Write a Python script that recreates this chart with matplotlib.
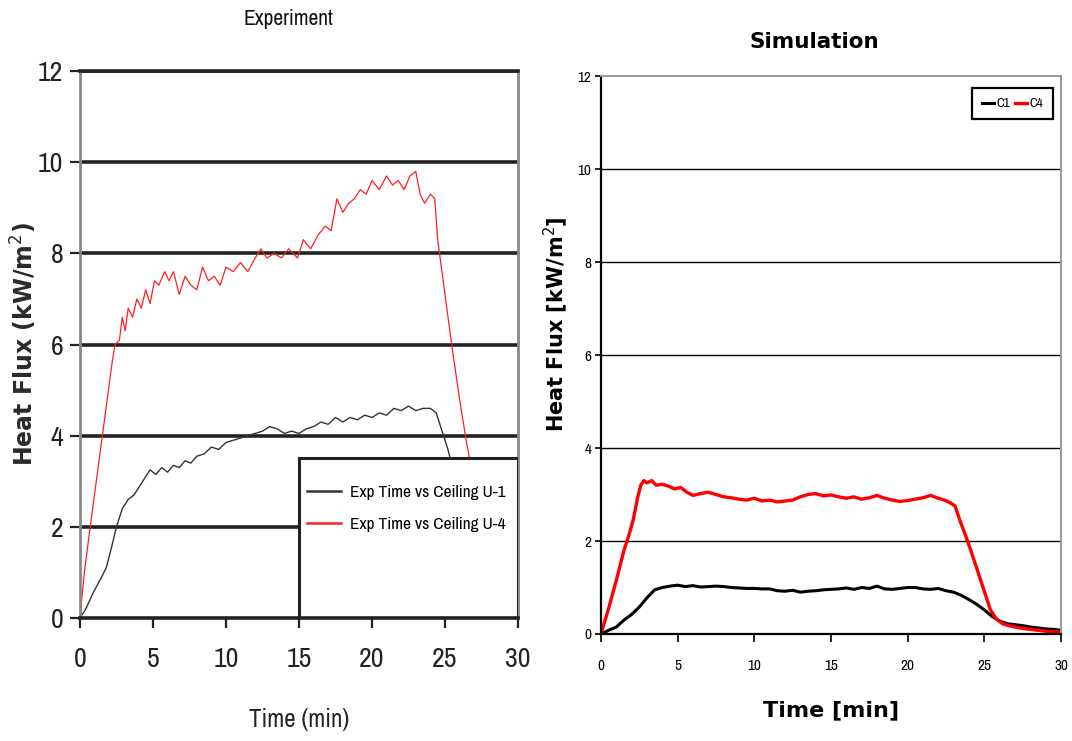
import matplotlib
matplotlib.use("Agg")
import matplotlib.pyplot as plt
from matplotlib.patches import Rectangle

# Experiment, ceiling gauges U-1 / U-4 (kW/m2 vs min)
exp_t_u1 = [0, 0.4, 0.9, 1.4, 1.8, 2.2, 2.5, 2.9, 3.3, 3.7, 4.1, 4.5, 4.8, 5.2, 5.6, 6.0,
            6.4, 6.8, 7.2, 7.6, 8.0, 8.5, 9.0, 9.5, 10.0, 10.5, 11.0, 11.5, 12.0, 12.5,
            13.0, 13.5, 14.0, 14.5, 15.0, 15.5, 16.0, 16.5, 17.0, 17.5, 18.0, 18.5, 19.0,
            19.5, 20.0, 20.5, 21.0, 21.5, 22.0, 22.5, 23.0, 23.5, 24.0, 24.4, 24.8, 25.2,
            25.6, 26.0, 27, 28, 29, 30]
exp_u1 = [0, 0.2, 0.55, 0.85, 1.1, 1.6, 2.0, 2.4, 2.6, 2.7, 2.9, 3.1, 3.25, 3.15, 3.3, 3.2,
          3.35, 3.3, 3.45, 3.4, 3.55, 3.6, 3.75, 3.7, 3.85, 3.9, 3.95, 4.0, 4.05, 4.1,
          4.2, 4.15, 4.05, 4.1, 4.05, 4.15, 4.2, 4.3, 4.25, 4.4, 4.3, 4.4, 4.35,
          4.45, 4.4, 4.5, 4.45, 4.6, 4.55, 4.65, 4.55, 4.6, 4.6, 4.5, 4.1, 3.7,
          3.2, 2.6, 1.8, 1.0, 0.4, 0.1]

exp_t_u4 = [0, 0.3, 0.7, 1.2, 1.7, 2.2, 2.4, 2.7, 2.9, 3.1, 3.3, 3.6, 3.9, 4.2, 4.5, 4.8,
            5.1, 5.4, 5.8, 6.1, 6.4, 6.8, 7.2, 7.6, 8.0, 8.4, 8.8, 9.2, 9.6, 10.0, 10.5,
            11.0, 11.5, 12.0, 12.4, 12.8, 13.3, 13.8, 14.3, 14.9, 15.3, 15.8, 16.3, 16.8,
            17.2, 17.6, 18.0, 18.4, 18.8, 19.2, 19.6, 20.0, 20.5, 21.0, 21.4, 21.8, 22.2,
            22.6, 23.0, 23.3, 23.6, 24.0, 24.3, 24.5, 25.0, 25.5, 26.0, 26.5, 27.0, 28.0,
            29.0, 30.0]
exp_u4 = [0, 1.0, 2.0, 3.2, 4.4, 5.6, 6.0, 6.1, 6.6, 6.3, 6.8, 6.6, 7.0, 6.8, 7.2, 6.9,
          7.4, 7.3, 7.6, 7.4, 7.6, 7.1, 7.5, 7.3, 7.2, 7.7, 7.4, 7.5, 7.3, 7.7, 7.6,
          7.8, 7.6, 7.9, 8.1, 7.9, 8.0, 7.9, 8.1, 7.9, 8.3, 8.1, 8.4, 8.6,
          8.5, 9.2, 8.9, 9.1, 9.2, 9.4, 9.3, 9.6, 9.4, 9.7, 9.5, 9.6, 9.4,
          9.7, 9.8, 9.3, 9.1, 9.3, 9.2, 8.3, 7.1, 5.9, 4.8, 3.8, 3.0, 1.8,
          0.7, 0.1]

# Simulation, C1 / C4
sim_t_c1 = [0, 0.5, 1.0, 1.5, 2.0, 2.5, 3.0, 3.5, 4.0, 4.5, 5.0, 5.5, 6.0, 6.5, 7.0, 7.5,
            8.0, 8.5, 9.0, 9.5, 10, 10.5, 11, 11.5, 12, 12.5, 13, 13.5, 14, 14.5, 15,
            15.5, 16, 16.5, 17, 17.5, 18, 18.5, 19, 19.5, 20, 20.5, 21, 21.5, 22, 22.5,
            23, 23.5, 24, 24.5, 25, 25.5, 26, 26.5, 27, 27.5, 28, 28.5, 29, 29.5, 30]
sim_c1 = [0, 0.08, 0.15, 0.3, 0.42, 0.58, 0.78, 0.95, 1.0, 1.03, 1.05, 1.02, 1.04, 1.01,
          1.02, 1.03, 1.02, 1.0, 0.99, 0.98, 0.98, 0.97, 0.97, 0.93, 0.92, 0.94, 0.9,
          0.92, 0.93, 0.95, 0.96, 0.97, 0.99, 0.96, 1.0, 0.98, 1.03, 0.97, 0.96, 0.98,
          1.0, 1.0, 0.97, 0.96, 0.98, 0.93, 0.9, 0.83, 0.74, 0.64, 0.52, 0.38, 0.28,
          0.22, 0.2, 0.18, 0.15, 0.13, 0.11, 0.1, 0.08]

sim_t_c4 = [0, 0.5, 1.0, 1.5, 1.8, 2.1, 2.4, 2.6, 2.8, 3.0, 3.3, 3.6, 4.0, 4.4, 4.8, 5.2,
            5.6, 6.0, 6.5, 7.0, 7.5, 8.0, 8.5, 9.0, 9.5, 10.0, 10.5, 11.0, 11.5, 12.0,
            12.5, 13.0, 13.5, 14.0, 14.5, 15.0, 15.5, 16.0, 16.5, 17.0, 17.5, 18.0, 18.5,
            19.0, 19.5, 20.0, 20.5, 21.0, 21.5, 22.0, 22.4, 22.8, 23.1, 23.4, 23.8, 24.2,
            24.6, 25.0, 25.4, 25.8, 26.2, 26.6, 27.0, 27.5, 28.0, 28.5, 29.0, 29.5, 30.0]
sim_c4 = [0, 0.55, 1.15, 1.8, 2.1, 2.45, 2.95, 3.2, 3.3, 3.25, 3.3, 3.2, 3.22, 3.18, 3.12,
          3.15, 3.05, 2.98, 3.02, 3.05, 3.0, 2.95, 2.93, 2.9, 2.88, 2.92, 2.86, 2.88,
          2.84, 2.86, 2.88, 2.95, 3.0, 3.02, 2.97, 2.99, 2.95, 2.92, 2.95, 2.9, 2.93,
          2.98, 2.92, 2.88, 2.85, 2.87, 2.9, 2.93, 2.98, 2.92, 2.88, 2.82, 2.75, 2.45,
          2.1, 1.72, 1.32, 0.92, 0.52, 0.32, 0.22, 0.18, 0.15, 0.12, 0.1, 0.08, 0.06,
          0.05, 0.04]

x_ticks = [0, 5, 10, 15, 20, 25, 30]
y_ticks = [0, 2, 4, 6, 8, 10, 12]

# narrow face for the Excel-ish text, a wide bold face for the big labels
NARROW = ["Archivo Narrow", "PT Sans Narrow", "Roboto Condensed", "Liberation Sans Narrow",
          "Liberation Sans", "DejaVu Sans"]
WIDE = ["DejaVu Sans"]
plt.rcParams["font.family"] = NARROW

fig = plt.figure(figsize=(10.72, 7.41), dpi=100)

# ---- Experiment ----
ax1 = fig.add_axes([0.0746, 0.166, 0.4086, 0.738])
ax1.set_xlim(0, 30)
ax1.set_ylim(0, 12)
for y in y_ticks[1:]:
    ax1.axhline(y, color="#222222", lw=2.6, zorder=1)
ax1.plot(exp_t_u1, exp_u1, color="#333333", lw=1.0, zorder=2, label="Exp Time vs Ceiling U-1")
ax1.plot(exp_t_u4, exp_u4, color="#ff2020", lw=0.9, zorder=2, label="Exp Time vs Ceiling U-4")
ax1.set_xticks(x_ticks)
ax1.set_yticks(y_ticks)
ax1.tick_params(labelsize=20, colors="#222222", length=7, width=1.6, pad=14)
ax1.tick_params(axis="y", pad=5)
for s in ["left", "right"]:
    ax1.spines[s].set_color("#888888")
    ax1.spines[s].set_linewidth(2.0)
for s in ["top", "bottom"]:
    ax1.spines[s].set_color("#222222")
    ax1.spines[s].set_linewidth(2.6)
ax1.spines["bottom"].set_zorder(5)
ax1.set_xlabel("Time (min)", fontsize=18, color="#222222", labelpad=26)
ax1.set_ylabel("Heat Flux (kW/m$^2$)", fontsize=17, fontweight="bold", family=WIDE,
               color="#2a2a2a", labelpad=-1)
ax1.set_title("Experiment", fontsize=15.5, color="#111111", pad=33, x=0.475)
# legend panel in the lower right corner
box = Rectangle((0.5, 0.0), 0.5, 3.5 / 12, transform=ax1.transAxes, facecolor="white",
                edgecolor="#222222", lw=2.2, zorder=4)
ax1.add_patch(box)
leg1 = ax1.legend(loc="upper left", bbox_to_anchor=(0.482, 3.5 / 12 - 0.02), frameon=False,
                  fontsize=12.5, handlelength=2.0, handletextpad=0.5, labelspacing=0.95)
leg1.set_zorder(6)
for line in leg1.get_lines():
    line.set_linewidth(1.8)

# ---- Simulation ----
ax2 = fig.add_axes([0.5606, 0.1444, 0.4291, 0.753])
ax2.set_xlim(0, 30)
ax2.set_ylim(0, 12)
for y in y_ticks[1:-1]:
    ax2.axhline(y, color="black", lw=1.0, zorder=1)
ax2.plot(sim_t_c1, sim_c1, color="black", lw=2.2, zorder=2, label="C1")
ax2.plot(sim_t_c4, sim_c4, color="#ff0000", lw=2.4, zorder=2, label="C4")
ax2.set_xticks(x_ticks)
ax2.set_yticks(y_ticks)
ax2.tick_params(labelsize=11, length=6, width=1.2, pad=12)
ax2.tick_params(axis="y", pad=3, length=4)
for lab in ax2.get_xticklabels() + ax2.get_yticklabels():
    lab.set_fontweight("bold")
ax2.spines["left"].set_linewidth(1.6)
ax2.spines["bottom"].set_linewidth(1.6)
for s in ["top", "right"]:
    ax2.spines[s].set_color("#999999")
    ax2.spines[s].set_linewidth(1.4)
ax2.set_xlabel("Time [min]", fontsize=16, fontweight="bold", family=WIDE, labelpad=20)
ax2.set_ylabel("Heat Flux [kW/m$^2$]", fontsize=15, fontweight="bold", family=WIDE,
               labelpad=5, y=0.556)
ax2.set_title("Simulation", fontsize=15.5, fontweight="bold", family=WIDE, pad=20, x=0.463)
leg2 = ax2.legend(loc="upper right", ncol=2, fontsize=9.5, handlelength=0.9, handletextpad=0.2,
                  columnspacing=0.4, borderpad=0.75, borderaxespad=0, fancybox=False,
                  framealpha=1, edgecolor="black", bbox_to_anchor=(0.983, 0.978))
leg2.get_frame().set_linewidth(1.6)

fig.savefig("out.png", dpi=100)
